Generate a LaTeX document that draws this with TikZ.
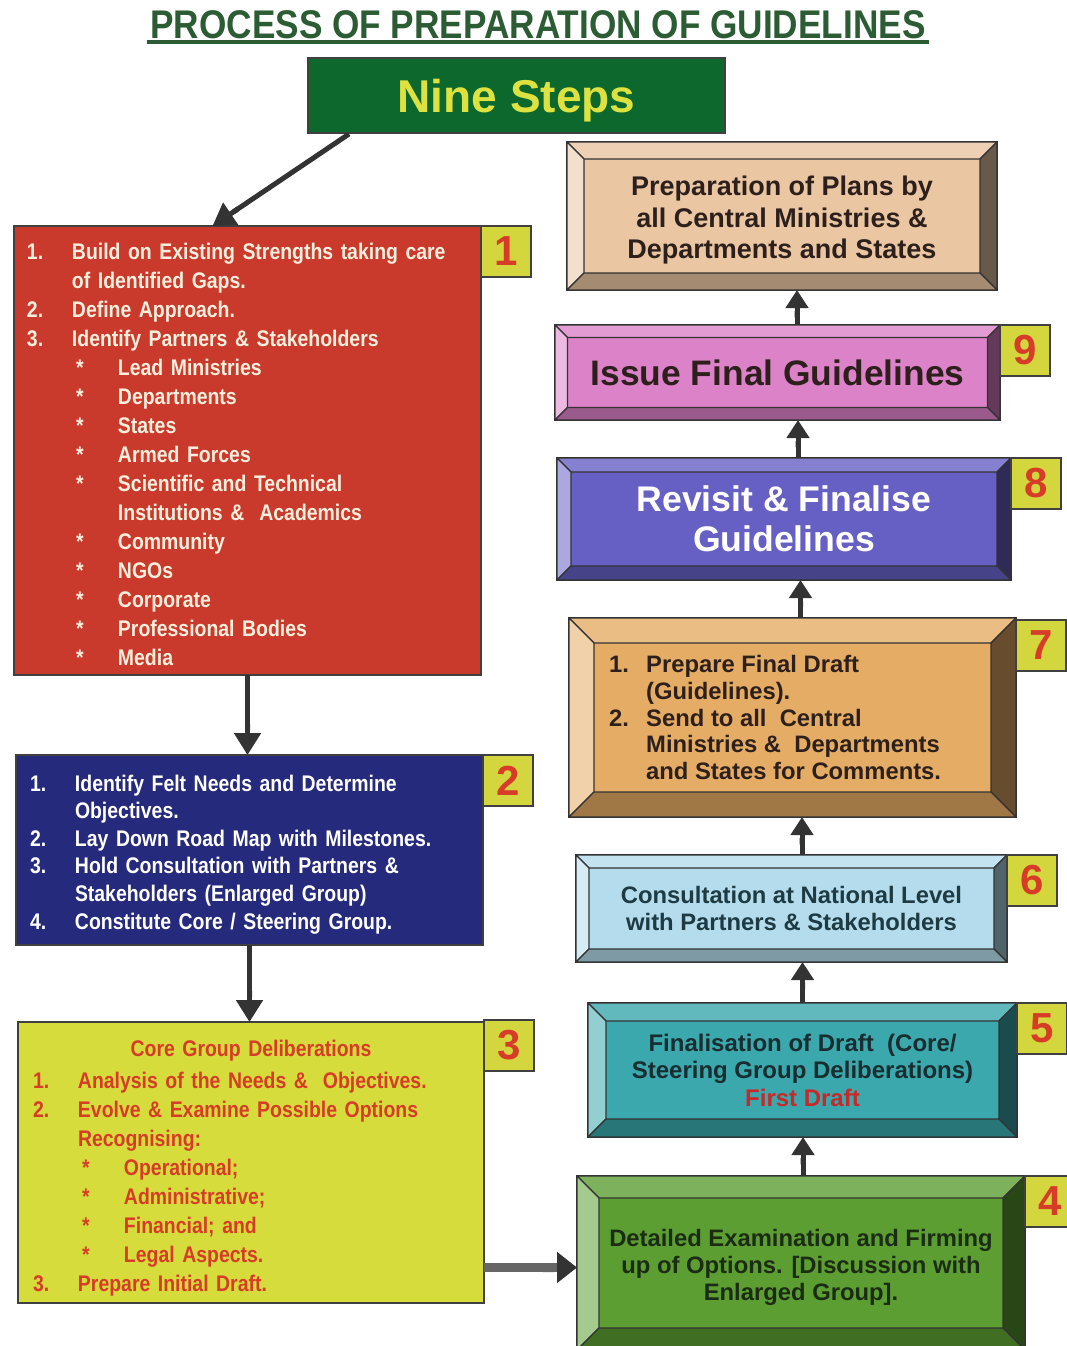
\documentclass[tikz,border=0pt]{standalone}
\usepackage{fontspec}
\setmainfont{Liberation Sans}
\newfontfamily\narrowfont[FakeStretch=0.86]{Liberation Sans}
\newfontfamily\titlefont[FakeStretch=0.88]{Liberation Sans}
\usepackage{tikz}
\usetikzlibrary{arrows.meta}
\usetikzlibrary{positioning}

\definecolor{titlegreen}{RGB}{44,92,52}
\definecolor{ninegreen}{RGB}{12,104,44}
\definecolor{nineyellow}{RGB}{222,226,64}
\definecolor{stepred}{RGB}{201,58,44}
\definecolor{stepnavy}{RGB}{38,42,124}
\definecolor{stepyellow}{RGB}{214,220,60}
\definecolor{taggold}{RGB}{212,214,62}
\definecolor{numred}{RGB}{214,60,40}
\definecolor{cream}{RGB}{250,238,220}
\definecolor{stepgreen}{RGB}{92,158,50}
\definecolor{stepteal}{RGB}{58,168,172}
\definecolor{steplblue}{RGB}{180,220,236}
\definecolor{steptan}{RGB}{228,172,100}
\definecolor{steppurple}{RGB}{102,96,196}
\definecolor{steppink}{RGB}{220,130,200}
\definecolor{plansbeige}{RGB}{234,198,162}
\definecolor{darktext}{RGB}{45,32,28}
\definecolor{firstred}{RGB}{200,40,40}

\tikzset{
  flatbox/.style={rectangle, draw=black!75, line width=1.6pt, outer sep=0pt, inner sep=0pt},
  bevelbox/.style={rectangle, draw=black!80, line width=1.2pt, outer sep=0pt, inner sep=0pt,
                   align=center, font=\bfseries},
  bevelline/.style={draw=black!80, line width=1.2pt, line join=round},
  tag/.style={rectangle, fill=taggold, draw=black!75, line width=1.6pt, minimum width=50pt,
              minimum height=51pt, anchor=north west, outer sep=0pt, inner sep=0pt,
              text=numred, font=\bfseries\fontsize{42}{42}\selectfont},
  downarr/.style={draw=black!80, line width=5pt, -{Butt Cap[sep=3pt] Triangle[width=26pt,length=22pt]}},
  uparr/.style={draw=black!80, line width=5pt, -{Butt Cap[sep=3pt] Triangle[width=22pt,length=18pt]}},
  sidearr/.style={draw=black!60, line width=9pt, -{Butt Cap[sep=3pt] Triangle[width=30pt,length=20pt,color=black!80]}}
}

% bevelled frame round a box: node, inset, colour
\newcommand{\bevelframe}[3]{%
  \coordinate (#1-i1) at ([shift={(#2,#2)}]#1.north west);
  \coordinate (#1-i2) at ([shift={(-#2,#2)}]#1.north east);
  \coordinate (#1-i3) at ([shift={(-#2,-#2)}]#1.south east);
  \coordinate (#1-i4) at ([shift={(#2,-#2)}]#1.south west);
  \filldraw[bevelline, fill=#3!80!white] (#1.north west) -- (#1.north east) -- (#1-i2) -- (#1-i1) -- cycle;
  \filldraw[bevelline, fill=#3!55!white] (#1.north west) -- (#1-i1) -- (#1-i4) -- (#1.south west) -- cycle;
  \filldraw[bevelline, fill=#3!45!black] (#1.north east) -- (#1.south east) -- (#1-i3) -- (#1-i2) -- cycle;
  \filldraw[bevelline, fill=#3!70!black] (#1.south west) -- (#1-i4) -- (#1-i3) -- (#1.south east) -- cycle;
}
\newcommand{\itm}[1]{\makebox[45pt][l]{#1}}
\newcommand{\cont}{\hspace*{45pt}}
\newcommand{\bul}{\hspace*{49pt}\makebox[42pt][l]{*}}
\newcommand{\bulcont}{\hspace*{91pt}}
\newcommand{\topgap}[1]{\rule{0pt}{#1pt}}

\begin{document}
\begin{tikzpicture}[x=1pt,y=-1pt]
  \useasboundingbox (0,0) rectangle (1067,1346);
  \fill[white] (0,0) rectangle (1067,1346);

  % heading
  \node[anchor=base, inner sep=0pt, text=titlegreen,
        font=\titlefont\bfseries\fontsize{40}{40}\selectfont] (title) at (538,38)
        {PROCESS OF PREPARATION OF GUIDELINES};
  \draw[titlegreen, line width=3.5pt] ([shift={(-3,4)}]title.base west) -- ([shift={(3,4)}]title.base east);

  \node[draw=black!75, line width=2pt, fill=ninegreen, minimum width=417pt, minimum height=75pt,
        text=nineyellow, text depth=0pt, font=\bfseries\fontsize{46}{46}\selectfont] (n0) at (516.5,95.5) {Nine Steps};

  % left column
  \node[flatbox, fill=stepred, text=cream, minimum width=467pt, minimum height=449pt,
        text width=441pt, inner xsep=13pt, align=left,
        font=\narrowfont\bfseries\fontsize{22.6}{29}\selectfont] (s1) at (247.5,450.5) {%
    \topgap{25}\itm{1.}Build on Existing Strengths taking care\\
    \cont of Identified Gaps.\\
    \itm{2.}Define Approach.\\
    \itm{3.}Identify Partners \& Stakeholders\\
    \bul Lead Ministries\\
    \bul Departments\\
    \bul States\\
    \bul Armed Forces\\
    \bul Scientific and Technical\\
    \bulcont Institutions \&\ \ Academics\\
    \bul Community\\
    \bul NGOs\\
    \bul Corporate\\
    \bul Professional Bodies\\
    \bul Media};

  \node[flatbox, fill=stepnavy, text=white, minimum width=467pt, minimum height=190pt,
        text width=439pt, inner xsep=14pt, align=left,
        font=\narrowfont\bfseries\fontsize{22.6}{27.6}\selectfont] (s2) at (249.5,850) {%
    \topgap{25}\itm{1.}Identify Felt Needs and Determine\\
    \cont Objectives.\\
    \itm{2.}Lay Down Road Map with Milestones.\\
    \itm{3.}Hold Consultation with Partners \&\\
    \cont Stakeholders (Enlarged Group)\\
    \itm{4.}Constitute Core / Steering Group.};

  \node[flatbox, fill=stepyellow, text=numred, minimum width=466pt, minimum height=281pt,
        text width=436pt, inner xsep=15pt, align=left,
        font=\narrowfont\bfseries\fontsize{22.6}{29}\selectfont] (s3) at (251,1162.5) {%
    \topgap{28}\makebox[436pt]{Core Group Deliberations}\\[3pt]
    \itm{1.}Analysis of the Needs \&\ \ Objectives.\\
    \itm{2.}Evolve \& Examine Possible Options\\
    \cont Recognising:\\
    \bul Operational;\\
    \bul Administrative;\\
    \bul Financial; and\\
    \bul Legal Aspects.\\
    \itm{3.}Prepare Initial Draft.};

  % right column
  \node[bevelbox, fill=plansbeige, text=darktext, minimum width=430pt, minimum height=148pt,
        font=\bfseries\fontsize{27}{31.5}\selectfont] (plans) at (782,216)
        {\topgap{28}Preparation of Plans by\\all Central Ministries \&\\Departments and States};
  \bevelframe{plans}{17}{plansbeige}

  \node[bevelbox, fill=steppink, text=darktext, minimum width=445pt, minimum height=95pt,
        font=\bfseries\fontsize{35.4}{40}\selectfont] (s9) at (777.5,372.5) {Issue Final Guidelines};
  \bevelframe{s9}{12.5}{steppink}

  \node[bevelbox, fill=steppurple, text=white, minimum width=454pt, minimum height=122pt,
        font=\bfseries\fontsize{35.6}{40}\selectfont] (s8) at (784,519) {Revisit \& Finalise\\Guidelines};
  \bevelframe{s8}{14}{steppurple}

  \node[bevelbox, fill=steptan, minimum width=447pt, minimum height=199pt] (s7) at (792.5,717.5) {};
  \bevelframe{s7}{25}{steptan}
  \node[anchor=west, align=left, inner sep=0pt, text=darktext,
        font=\bfseries\fontsize{23.8}{26.8}\selectfont] (s7text) at ([xshift=40pt]s7.west) {%
    \makebox[37pt][l]{1.}Prepare Final Draft\\
    \hspace*{37pt}(Guidelines).\\
    \makebox[37pt][l]{2.}Send to all\ \ Central\\
    \hspace*{37pt}Ministries \&\ \ Departments\\
    \hspace*{37pt}and States for Comments.};

  \node[bevelbox, fill=steplblue, text={rgb,255:red,30;green,58;blue,66}, minimum width=431pt, minimum height=107pt,
        font=\bfseries\fontsize{23.8}{27}\selectfont] (s6) at (791.5,908.5)
        {Consultation at National Level\\with Partners \& Stakeholders};
  \bevelframe{s6}{13}{steplblue}

  \node[bevelbox, fill=stepteal, text={rgb,255:red,25;green,45;blue,48}, minimum width=429pt, minimum height=134pt,
        font=\bfseries\fontsize{24}{27.5}\selectfont] (s5) at (802.5,1070)
        {Finalisation of Draft\ \ (Core/\\Steering Group Deliberations)\\\textcolor{firstred}{First Draft}};
  \bevelframe{s5}{18}{stepteal}

  \node[bevelbox, fill=stepgreen, text={rgb,255:red,28;green,44;blue,20}, minimum width=448pt, minimum height=174pt,
        font=\bfseries\fontsize{23.8}{27}\selectfont] (s4) at (801,1263)
        {\topgap{25.5}Detailed Examination and Firming\\up of Options. [Discussion with\\Enlarged Group].};
  \bevelframe{s4}{22}{stepgreen}

  % number tags
  \begin{scope}[every node/.style={tag}]
    \node (t1) at (s1.north east) {1};
    \node (t2) at (s2.north east) {2};
    \node (t3) at ([yshift=2pt]s3.north east) {3};
    \node (t4) at (s4.north east) {4};
    \node (t5) at (s5.north east) {5};
    \node (t6) at (s6.north east) {6};
    \node (t7) at ([yshift=-2pt]s7.north east) {7};
    \node (t8) at (s8.north east) {8};
    \node (t9) at (s9.north east) {9};
  \end{scope}

  % connectors
  \draw[downarr] ([xshift=42pt]n0.south west) -- ([xshift=-35pt]s1.north);
  \draw[downarr] (s1.south) -- (s1.south |- s2.north);
  \draw[downarr] (s2.south) -- (s2.south |- s3.north);
  \coordinate (a34) at ([yshift=-105pt]s3.east);
  \draw[sidearr] (a34) -- (a34 -| s4.west);
  \draw[uparr] ([xshift=2pt]s4.north) -- ([xshift=2pt]s4.north |- s5.south);
  \draw[uparr] (s5.north) -- (s5.north |- s6.south);
  \draw[uparr] ([xshift=10.5pt]s6.north) -- ([xshift=10.5pt]s6.north |- s7.south);
  \draw[uparr] ([xshift=8pt]s7.north) -- ([xshift=8pt]s7.north |- s8.south);
  \draw[uparr] ([xshift=14pt]s8.north) -- ([xshift=14pt]s8.north |- s9.south);
  \draw[uparr] ([xshift=19.5pt]s9.north) -- ([xshift=19.5pt]s9.north |- plans.south);
\end{tikzpicture}
\end{document}
